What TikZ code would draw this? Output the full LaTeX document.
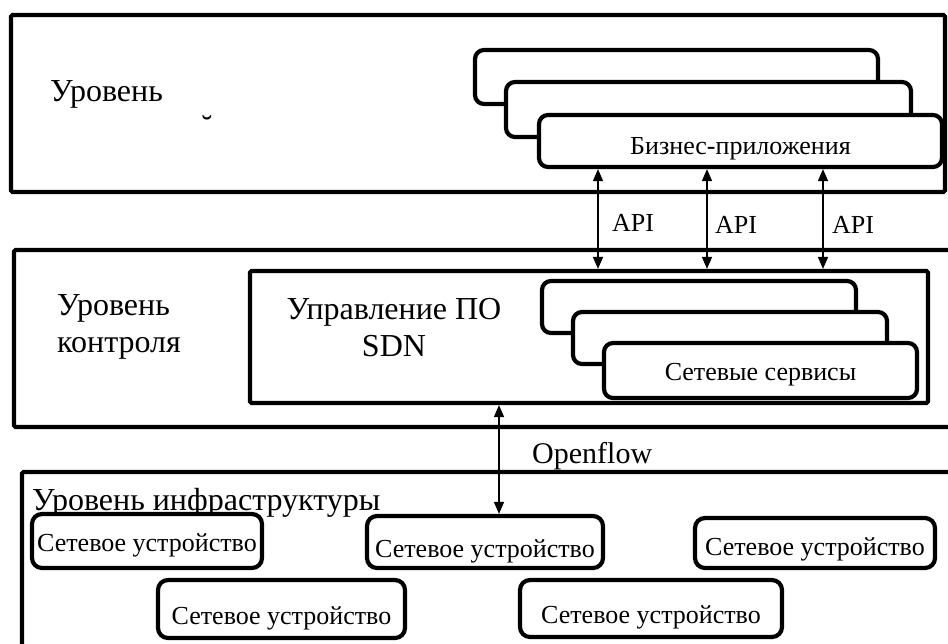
\documentclass[tikz,border=0pt]{standalone}
\usepackage{fontspec}
\setmainfont{Liberation Serif}
\usetikzlibrary{arrows.meta}
\begin{document}
\begin{tikzpicture}[x=1pt,y=-1pt]
	\tikzstyle{every node}+=[inner sep=0pt]
	\tikzstyle{layer}=[draw=black, line width=4.2pt, rounded corners=1.5pt]
	\tikzstyle{stack}=[draw=black, fill=white, line width=4.2pt, rounded corners=9pt]
	\tikzstyle{device}=[draw=black, fill=white, line width=4.2pt, rounded corners=10pt, font=\fontsize{26}{30}\selectfont, text height=27pt, text depth=6pt]
	\tikzstyle{link}=[black, line width=1.5pt, {Triangle[length=12pt,width=10pt]}-{Triangle[length=12pt,width=10pt]}]
	\tikzstyle{big}=[font=\fontsize{32}{37}\selectfont]
	\tikzstyle{small}=[font=\fontsize{26}{30}\selectfont]
	\useasboundingbox (0,0) rectangle (948,643);
	\clip (0,0) rectangle (948,643);
	% application layer
	\node [layer, minimum width=934pt, minimum height=177pt] (app) at (478,103.5) {};
	\node [big, anchor=west] (appText) at (50,94) {Уровень};
	\node [big] (appMark) at (207,127) {˘};
	\node [stack, minimum width=403pt, minimum height=54pt] (bizA) at (676.5,77) {};
	\node [stack, minimum width=405pt, minimum height=55pt] (bizB) at (708.5,109.5) {};
	\node [stack, small, minimum width=403pt, minimum height=52pt, text height=32pt, text depth=6pt] (bizC) at (740.5,141) {Бизнес-приложения};
	% control layer
	\node [layer, minimum width=976pt, minimum height=177pt] (ctrl) at (502,338.5) {};
	\node [big, anchor=west, align=left] (ctrlText) at (57,327) {Уровень\\контроля};
	\node [layer, minimum width=678pt, minimum height=132pt] (sdn) at (589,337) {};
	\node [big, align=center] (sdnText) at (394,328) {Управление ПО\\SDN};
	\node [stack, minimum width=314pt, minimum height=52pt] (svcA) at (699,307) {};
	\node [stack, minimum width=314pt, minimum height=52pt] (svcB) at (730,338) {};
	\node [stack, small, minimum width=313pt, minimum height=55pt, text height=26pt, text depth=6pt] (svcC) at (760.5,370.5) {Сетевые сервисы};
	% infrastructure layer
	\node [layer, minimum width=968pt, minimum height=228pt] (infra) at (506,586) {};
	\node [big, anchor=west] (infraText) at (32,503) {Уровень инфраструктуры};
	\node [device, minimum width=230pt, minimum height=54pt] (devA) at (147,541) {Сетевое устройство};
	\node [device, minimum width=236pt, minimum height=52pt, text height=36pt] (devB) at (485,542) {Сетевое устройство};
	\node [device, minimum width=240pt, minimum height=50pt, text height=31pt] (devC) at (815,543) {Сетевое устройство};
	\node [device, minimum width=247pt, minimum height=58pt, text height=36pt] (devD) at (281.5,609) {Сетевое устройство};
	\node [device, minimum width=262pt, minimum height=57pt, text height=36pt] (devE) at (651,608.5) {Сетевое устройство};
	% interfaces
	\coordinate (api1) at (598,0);
	\coordinate (api2) at (707,0);
	\coordinate (api3) at (823,0);
	\coordinate (of) at (499,0);
	\draw [link] (bizC.south -| api1) -- (sdn.north -| api1);
	\draw [link] (bizC.south -| api2) -- (sdn.north -| api2);
	\draw [link] (bizC.south -| api3) -- (sdn.north -| api3);
	\node [small, anchor=west] (apiText1) at (612,223) {API};
	\node [small, anchor=west] (apiText2) at (715,225) {API};
	\node [small, anchor=west] (apiText3) at (832,225) {API};
	\draw [link] (sdn.south -| of) -- (devB.north -| of);
	\node [font=\fontsize{30}{34}\selectfont, anchor=west] (ofText) at (532,456) {Openflow};
\end{tikzpicture}
\end{document}
